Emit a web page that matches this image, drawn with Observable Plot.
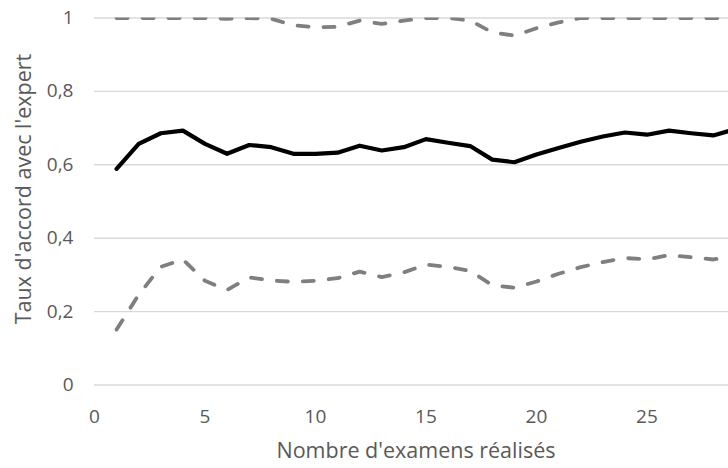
<!DOCTYPE html>
<html>
<head>
<meta charset="utf-8">
<script src="https://cdn.jsdelivr.net/npm/d3@7"></script>
<script src="https://cdn.jsdelivr.net/npm/@observablehq/plot@0.6"></script>
<style>
  html, body { margin: 0; padding: 0; background: #fff; }
  #chart svg { display: block; }
</style>
</head>
<body>
<div id="chart"></div>
<script>
// Number of exams performed
const exams = [1,2,3,4,5,6,7,8,9,10,11,12,13,14,15,16,17,18,19,20,21,22,23,24,25,26,27,28,29];
// Agreement rate with the expert (mean)
const agreement = [0.589,0.657,0.686,0.693,0.657,0.630,0.654,0.648,0.630,0.630,0.633,0.652,0.639,0.648,0.670,0.660,0.651,0.614,0.607,0.628,0.646,0.663,0.677,0.688,0.682,0.693,0.686,0.680,0.697];
// Upper bound
const upperBound = [1,1,1,1,1,0.998,1,0.998,0.980,0.975,0.976,0.993,0.984,0.993,1,1,0.993,0.961,0.952,0.972,0.988,1,1,1,1,1,1,1,1];
// Lower bound
const lowerBound = [0.151,0.246,0.322,0.342,0.284,0.259,0.293,0.285,0.281,0.284,0.291,0.309,0.294,0.307,0.328,0.322,0.311,0.272,0.265,0.282,0.303,0.321,0.335,0.346,0.342,0.354,0.348,0.342,0.352];

const xTicks = [0,5,10,15,20,25];
const yTicks = [0,0.2,0.4,0.6,0.8,1];
const xTitle = "Nombre d'examens réalisés";
const yTitle = "Taux d'accord avec l'expert";

const rows = exams.map((n, i) => ({n, mean: agreement[i], hi: upperBound[i], lo: lowerBound[i]}));

const textColor = "#595959";
const fmt = v => String(v).replace(".", ",");

const chart = Plot.plot({
  width: 728,
  height: 468,
  marginLeft: 94,
  marginRight: 0,
  marginTop: 17.5,
  marginBottom: 83.5,
  style: {fontFamily: "'Open Sans', sans-serif", fontSize: "19px", color: textColor, background: "#fff"},
  x: {domain: [0, 28.69]},
  y: {domain: [0, 1]},
  marks: [
    Plot.ruleY(yTicks, {stroke: "#d9d9d9", strokeWidth: 1.4}),
    Plot.line(rows, {x: "n", y: "hi", stroke: "#7f7f7f", strokeWidth: 3.8, strokeDasharray: "11,15", strokeLinecap: "round", strokeLinejoin: "round", clip: true}),
    Plot.line(rows, {x: "n", y: "lo", stroke: "#7f7f7f", strokeWidth: 3.8, strokeDasharray: "11,15", strokeLinecap: "round", strokeLinejoin: "round", clip: true}),
    Plot.line(rows, {x: "n", y: "mean", stroke: "#000", strokeWidth: 4.2, strokeLinecap: "round", strokeLinejoin: "round", clip: true}),
    Plot.axisX({ticks: xTicks, tickSize: 0, tickPadding: 24, label: null, fill: textColor, fontSize: 19}),
    Plot.axisY({ticks: yTicks, tickSize: 0, tickPadding: 21, tickFormat: fmt, label: null, fill: textColor, fontSize: 19}),
    Plot.text([xTitle], {frameAnchor: "bottom", text: d => d, dx: 4.5, dy: 66, textAnchor: "middle", lineAnchor: "middle", fill: textColor, fontSize: 21.5}),
    Plot.text([yTitle], {frameAnchor: "left", text: d => d, rotate: -90, dx: -70, dy: -12.5, textAnchor: "middle", lineAnchor: "middle", fill: textColor, fontSize: 21.5})
  ]
});

document.getElementById("chart").appendChild(chart);
</script>
</body>
</html>
